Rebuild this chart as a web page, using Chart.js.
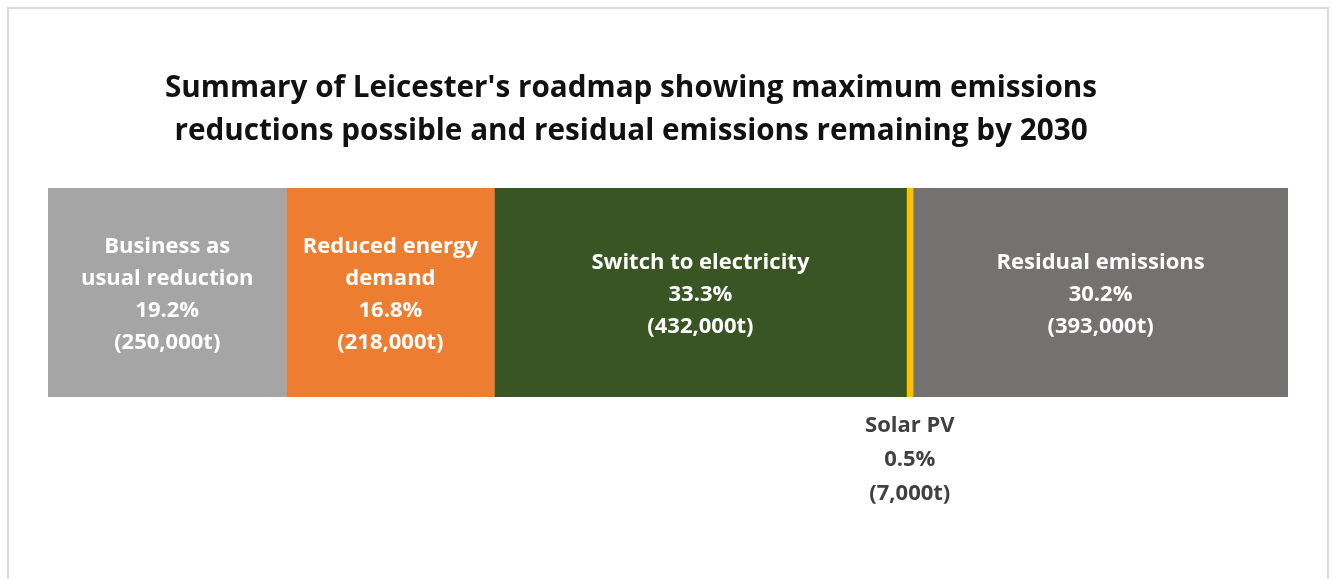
<!DOCTYPE html>
<html>
<head>
<meta charset="utf-8">
<script src="https://cdn.jsdelivr.net/npm/chart.js@4"></script>
<style>
  html, body { margin: 0; padding: 0; background: #fff; overflow: hidden; }
  #frame { position: absolute; left: 7px; top: 7px; width: 1322px; height: 640px; box-sizing: border-box; border: 2px solid #D9D9D9; }
  #wrap { position: absolute; left: 0; top: 0; width: 1333px; height: 579px; }
</style>
</head>
<body>
<div id="frame"></div>
<div id="wrap"><canvas id="roadmap"></canvas></div>
<script>
const titleLines = ["Summary of Leicester's roadmap showing maximum emissions", 'reductions possible and residual emissions remaining by 2030']
const categories = ['Business as usual reduction', 'Reduced energy demand', 'Switch to electricity', 'Solar PV', 'Residual emissions']
const labelLines = [['Business as', 'usual reduction'], ['Reduced energy', 'demand'], ['Switch to electricity'], ['Solar PV'], ['Residual emissions']]
const tonnes = [250000, 218000, 432000, 7000, 393000]
const percents = ['19.2%', '16.8%', '33.3%', '0.5%', '30.2%']
const tonneLabels = ['(250,000t)', '(218,000t)', '(432,000t)', '(7,000t)', '(393,000t)']
const colors = ['#A5A5A5', '#ED7D31', '#3A5524', '#FFC000', '#767171']
const outside = [false, false, false, true, false]

const fontFamily = '"Open Sans", Lato, sans-serif'

// title sits a bit left of the canvas centre, so draw it by hand
const titleDraw = {
  id: 'titleDraw',
  afterDraw(chart) {
    const ctx = chart.ctx
    ctx.save()
    ctx.font = 'bold 29.7px ' + fontFamily
    ctx.fillStyle = '#111111'
    ctx.textAlign = 'center'
    ctx.textBaseline = 'middle'
    titleLines.forEach((t, k) => ctx.fillText(t, 631, 89 + k * 43))
    ctx.restore()
  }
}

const segmentLabels = {
  id: 'segmentLabels',
  afterDatasetsDraw(chart) {
    const ctx = chart.ctx
    ctx.save()
    ctx.font = 'bold 22px ' + fontFamily
    ctx.textAlign = 'center'
    ctx.textBaseline = 'middle'
    chart.data.datasets.forEach((ds, i) => {
      const bar = chart.getDatasetMeta(i).data[0]
      const cx = (bar.x + bar.base) / 2
      const lines = labelLines[i].concat([percents[i], tonneLabels[i]])
      let y0, lh
      if (outside[i]) {
        ctx.fillStyle = '#404040'
        lh = 34
        y0 = chart.chartArea.bottom + 29
      } else {
        ctx.fillStyle = '#FFFFFF'
        lh = 32
        y0 = bar.y + 2 - (lines.length - 1) * lh / 2
      }
      lines.forEach((t, k) => ctx.fillText(t, cx, y0 + k * lh))
    })
    ctx.restore()
  }
}

new Chart('roadmap', {
  type: 'bar',
  data: {
    labels: ['Leicester'],
    datasets: categories.map((c, i) => ({
      label: c,
      data: [tonnes[i]],
      backgroundColor: colors[i],
      borderWidth: 0,
      barPercentage: 1,
      categoryPercentage: 1
    }))
  },
  options: {
    indexAxis: 'y',
    responsive: true,
    maintainAspectRatio: false,
    animation: false,
    layout: { padding: { left: 48, right: 45, top: 188, bottom: 182 } },
    scales: {
      x: { stacked: true, min: 0, max: 1300000, display: false },
      y: { stacked: true, display: false }
    },
    plugins: {
      legend: { display: false },
      tooltip: { enabled: false },
      title: { display: false }
    }
  },
  plugins: [segmentLabels, titleDraw]
})
</script>
</body>
</html>
